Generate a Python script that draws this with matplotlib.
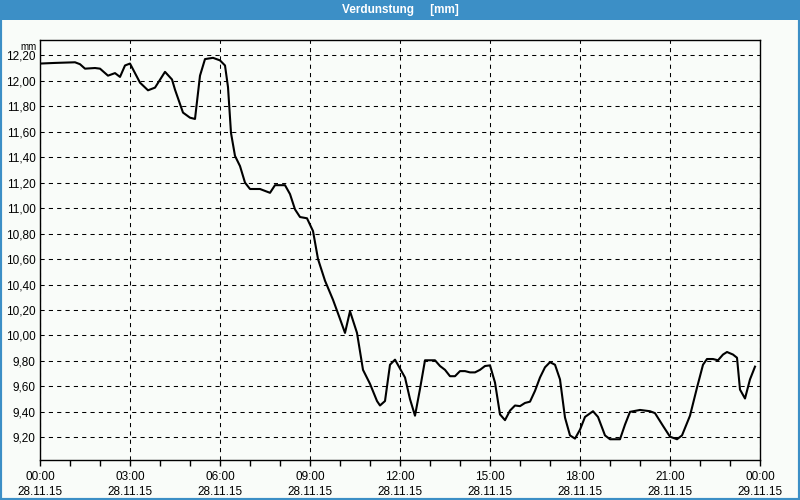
import pandas as pd
import matplotlib
matplotlib.use("Agg")
import matplotlib.pyplot as plt
import matplotlib.dates as mdates
from matplotlib.patches import Rectangle
from matplotlib.ticker import FuncFormatter, MultipleLocator

# Data (time of day on 28.11.15, evaporation in mm)
times = [
    "00:00", "00:30", "01:10", "01:20", "01:30", "01:50", "02:00", "02:16",
    "02:30", "02:40", "02:50", "03:00", "03:20", "03:36", "03:50", "04:10",
    "04:24", "04:30", "04:46", "05:00", "05:10", "05:20", "05:30", "05:46",
    "06:00", "06:10", "06:16", "06:22", "06:30", "06:40", "06:50", "07:00",
    "07:20", "07:40", "07:50", "08:10", "08:20", "08:30", "08:40", "08:54",
    "09:06", "09:16", "09:30", "09:46", "10:00", "10:10", "10:20", "10:34",
    "10:46", "11:00", "11:14", "11:20", "11:30", "11:40", "11:50", "12:10",
    "12:20", "12:30", "12:40", "12:50", "13:10", "13:20", "13:30", "13:40",
    "13:50", "14:00", "14:10", "14:20", "14:30", "14:40", "14:50", "15:00",
    "15:10", "15:20", "15:30", "15:40", "15:50", "16:00", "16:10", "16:20",
    "16:30", "16:40", "16:50", "17:00", "17:10", "17:20", "17:30", "17:40",
    "17:50", "18:00", "18:10", "18:26", "18:36", "18:50", "19:00", "19:20",
    "19:30", "19:40", "20:00", "20:20", "20:30", "20:46", "21:00", "21:14",
    "21:24", "21:40", "21:54", "22:06", "22:14", "22:26", "22:36", "22:46",
    "22:54", "23:06", "23:14", "23:20", "23:30", "23:40", "23:50",
]
values = [
    12.135, 12.14, 12.145, 12.13, 12.095, 12.10, 12.095, 12.04,
    12.06, 12.03, 12.12, 12.135, 11.985, 11.925, 11.946, 12.07,
    12.01, 11.93, 11.75, 11.71, 11.70, 12.04, 12.17, 12.18,
    12.16, 12.12, 11.95, 11.59, 11.41, 11.33, 11.20, 11.15,
    11.15, 11.12, 11.18, 11.18, 11.11, 10.99, 10.93, 10.92,
    10.82, 10.60, 10.43, 10.28, 10.13, 10.02, 10.19, 10.02,
    9.73, 9.62, 9.485, 9.45, 9.485, 9.77, 9.81, 9.67,
    9.50, 9.37, 9.58, 9.805, 9.805, 9.76, 9.73, 9.68,
    9.68, 9.72, 9.72, 9.71, 9.71, 9.73, 9.76, 9.765,
    9.63, 9.38, 9.335, 9.41, 9.45, 9.445, 9.47, 9.48,
    9.565, 9.67, 9.75, 9.79, 9.77, 9.655, 9.355, 9.215,
    9.19, 9.26, 9.36, 9.405, 9.36, 9.215, 9.185, 9.185,
    9.30, 9.40, 9.415, 9.405, 9.39, 9.29, 9.205, 9.185,
    9.215, 9.37, 9.59, 9.77, 9.815, 9.815, 9.805, 9.85,
    9.87, 9.85, 9.825, 9.575, 9.505, 9.655, 9.755,
]
day = "2015-11-28"
title = "Verdunstung     [mm]"
unit = "mm"

# Colors
BLUE = "#3c8fc6"
BG = "#f9fcf9"

x = pd.to_datetime([day + " " + t for t in times])

plt.rcParams["font.family"] = ["Liberation Sans", "DejaVu Sans"]

fig = plt.figure(figsize=(8, 5), dpi=100, facecolor=BG)
ax = fig.add_axes([0.05, 0.08, 0.9, 0.84])
ax.set_facecolor(BG)

ax.plot(x, values, color="black", linewidth=1.5, zorder=3)

start = pd.Timestamp(day)
ax.set_xlim(start, start + pd.Timedelta(days=1))
ax.set_ylim(9.022, 12.32)

ax.xaxis.set_major_locator(mdates.HourLocator(byhour=range(0, 24, 3)))
ax.xaxis.set_minor_locator(mdates.HourLocator())
ax.xaxis.set_major_formatter(mdates.DateFormatter("%H:%M\n%d.%m.%y"))
ax.yaxis.set_major_locator(MultipleLocator(0.2))
ax.yaxis.set_major_formatter(FuncFormatter(lambda v, p: f"{v:.2f}".replace(".", ",")))

ax.tick_params(axis="x", which="both", direction="out", length=4, width=1,
               labelsize=8.5, pad=4)
ax.tick_params(axis="y", length=0, labelsize=8.5, pad=3)
for lab in ax.get_xticklabels():
    lab.set_linespacing(1.3)

ax.grid(True, which="major", color="black", linewidth=0.75,
        linestyle=(0, (4, 4)), zorder=1)
for s in ax.spines.values():
    s.set_linewidth(1)
    s.set_color("black")

ax.text(-0.004, 0.983, unit, transform=ax.transAxes, ha="right", va="center",
        fontsize=7)

# Title bar and frame
fig.patches.append(Rectangle((0, 0.96), 1, 0.04, transform=fig.transFigure,
                             facecolor=BLUE, edgecolor="none", zorder=0))
fig.patches.append(Rectangle((0, 0), 1, 1, transform=fig.transFigure,
                             fill=False, edgecolor=BLUE, linewidth=3, zorder=0))
fig.text(0.5, 0.98, title, color="white", fontsize=8.5, fontweight="bold",
         ha="center", va="center")

fig.savefig("out.png", dpi=100, facecolor=BG)
